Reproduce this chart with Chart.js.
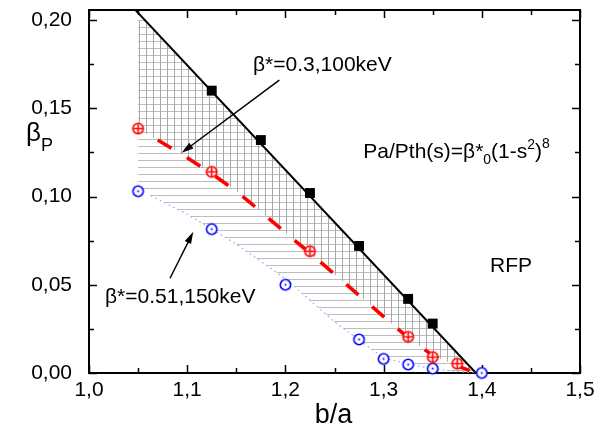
<!DOCTYPE html>
<html>
<head>
<meta charset="utf-8">
<script src="https://cdn.jsdelivr.net/npm/chart.js@4.4.0/dist/chart.umd.min.js"></script>
<style>
  html, body { margin: 0; padding: 0; background: #fff; }
  #wrap { width: 596px; height: 428px; }
</style>
</head>
<body>
<div id="wrap"><canvas id="betaChart" width="596" height="428"></canvas></div>
<script>
// values (x = b/a, y = beta_P)
var squareX = [1.125, 1.175, 1.225, 1.275, 1.325, 1.35];
var squareY = [0.160, 0.132, 0.102, 0.072, 0.042, 0.028];

// straight black limit line
var limitX = [1.040, 1.394];
var limitY = [0.210, 0.000];

// beta*=0.3, 100keV
var redX = [1.05, 1.125, 1.225, 1.325, 1.35, 1.375];
var redY = [0.1385, 0.114, 0.069, 0.0205, 0.009, 0.0053];
var redFitX = [1.07, 1.10, 1.125, 1.15, 1.175, 1.20, 1.225, 1.25, 1.275, 1.30, 1.325, 1.35, 1.375, 1.394];
var redFitY = [0.132, 0.122, 0.113, 0.103, 0.0915, 0.0795, 0.068, 0.056, 0.044, 0.032, 0.020, 0.010, 0.004, 0.0];

// beta*=0.51, 150keV
var blueX = [1.05, 1.125, 1.2, 1.275, 1.3, 1.325, 1.35, 1.4];
var blueY = [0.103, 0.0815, 0.050, 0.019, 0.008, 0.0048, 0.0025, 0.0];
var blueEdgeX = [1.063, 1.10, 1.15, 1.20, 1.25, 1.30, 1.35, 1.394];
var blueEdgeY = [0.1005, 0.090, 0.073, 0.0535, 0.029, 0.0085, 0.0022, 0.0];

// hatched bands
var hatchTopX = [1.05, 1.0564, 1.394];
var hatchTopY = [0.200, 0.200, 0.0];
var vHatchX = [1.05, 1.07, 1.10, 1.125, 1.15, 1.175, 1.20, 1.225, 1.25, 1.275, 1.30, 1.325, 1.35, 1.375, 1.394];
var vHatchY = [0.138, 0.132, 0.122, 0.113, 0.103, 0.0915, 0.0795, 0.068, 0.056, 0.044, 0.032, 0.020, 0.010, 0.004, 0.0];
var hHatchX = [1.05, 1.063, 1.10, 1.15, 1.20, 1.25, 1.30, 1.35, 1.394];
var hHatchY = [0.103, 0.1005, 0.090, 0.073, 0.0535, 0.029, 0.0085, 0.0022, 0.0];

var FONT = "Arial, 'Liberation Sans', sans-serif";

function pts(xs, ys) {
  var out = [];
  for (var i = 0; i < xs.length; i++) out.push({x: xs[i], y: ys[i]});
  return out;
}

var canvas = document.getElementById('betaChart');
var mainCtx = canvas.getContext('2d');

function makeHatch(vertical, color) {
  var c = document.createElement('canvas');
  c.width = 7; c.height = 7;
  var g = c.getContext('2d');
  g.fillStyle = color;
  if (vertical) g.fillRect(6, 0, 1, 7);
  else g.fillRect(0, 6, 7, 1);
  return mainCtx.createPattern(c, 'repeat');
}

function markerImg(kind, color) {
  var c = document.createElement('canvas');
  c.width = 15; c.height = 15;
  var g = c.getContext('2d');
  g.fillStyle = '#fff';
  g.beginPath(); g.arc(7.5, 7.5, 5.2, 0, Math.PI * 2); g.fill();
  g.strokeStyle = color; g.lineWidth = 1.6;
  g.beginPath(); g.arc(7.5, 7.5, 5.2, 0, Math.PI * 2); g.stroke();
  if (kind === 'plus') {
    g.beginPath();
    g.moveTo(2.3, 7.5); g.lineTo(12.7, 7.5);
    g.moveTo(7.5, 2.3); g.lineTo(7.5, 12.7);
    g.stroke();
  } else {
    g.fillStyle = color;
    g.beginPath(); g.arc(7.5, 7.5, 1, 0, Math.PI * 2); g.fill();
  }
  return c;
}

// text runs with sub/superscripts
function drawRuns(ctx, x, y, runs) {
  runs.forEach(function (r) {
    ctx.font = r.size + 'px ' + FONT;
    ctx.fillText(r.t, x, y + (r.dy || 0));
    x += ctx.measureText(r.t).width;
  });
}

function arrow(ctx, x1, y1, x2, y2) {
  var ang = Math.atan2(y2 - y1, x2 - x1);
  ctx.beginPath();
  ctx.moveTo(x1, y1);
  ctx.lineTo(x2 - 8 * Math.cos(ang), y2 - 8 * Math.sin(ang));
  ctx.stroke();
  ctx.beginPath();
  ctx.moveTo(x2, y2);
  ctx.lineTo(x2 - 12 * Math.cos(ang) + 3.5 * Math.sin(ang), y2 - 12 * Math.sin(ang) - 3.5 * Math.cos(ang));
  ctx.lineTo(x2 - 12 * Math.cos(ang) - 3.5 * Math.sin(ang), y2 - 12 * Math.sin(ang) + 3.5 * Math.cos(ang));
  ctx.closePath();
  ctx.fill();
}

var framePlugin = {
  id: 'frameTicks',
  beforeDatasetsDraw: function (chart) {
    var ctx = chart.ctx, a = chart.chartArea;
    var xs = chart.scales.x, ys = chart.scales.y;
    ctx.save();
    ctx.strokeStyle = '#000';
    ctx.lineWidth = 1.5;
    ctx.beginPath();
    var xt = xs.ticks.map(function (t) { return t.value; });
    for (var i = 0; i < xt.length; i++) {
      var vals = [[xt[i], 8]];
      if (i < xt.length - 1) vals.push([(xt[i] + xt[i + 1]) / 2, 5]);
      vals.forEach(function (v) {
        var px = Math.round(xs.getPixelForValue(v[0])) + 0.5;
        ctx.moveTo(px, a.bottom); ctx.lineTo(px, a.bottom - v[1]);
        ctx.moveTo(px, a.top); ctx.lineTo(px, a.top + v[1]);
      });
    }
    var yt = ys.ticks.map(function (t) { return t.value; });
    for (var j = 0; j < yt.length; j++) {
      var yv = [[yt[j], 8]];
      if (j < yt.length - 1) yv.push([(yt[j] + yt[j + 1]) / 2, 5]);
      yv.forEach(function (v) {
        var py = Math.round(ys.getPixelForValue(v[0])) + 0.5;
        ctx.moveTo(a.left, py); ctx.lineTo(a.left + v[1], py);
        ctx.moveTo(a.right, py); ctx.lineTo(a.right - v[1], py);
      });
    }
    ctx.stroke();
    ctx.lineWidth = 2;
    ctx.strokeRect(a.left, a.top, a.right - a.left, a.bottom - a.top);
    ctx.restore();
  },
  afterDraw: function (chart) {
    var ctx = chart.ctx, a = chart.chartArea;
    var xs = chart.scales.x, ys = chart.scales.y;
    function X(v) { return xs.getPixelForValue(v); }
    function Y(v) { return ys.getPixelForValue(v); }
    ctx.save();
    ctx.fillStyle = '#000';
    ctx.strokeStyle = '#000';
    ctx.textBaseline = 'alphabetic';
    ctx.textAlign = 'left';

    drawRuns(ctx, X(1.167), Y(0.171), [{t: 'β*=0.3,100keV', size: 21}]);
    drawRuns(ctx, X(1.0163), Y(0.0395), [{t: 'β*=0.51,150keV', size: 21}]);
    drawRuns(ctx, X(1.4084), Y(0.0574), [{t: 'RFP', size: 21}]);
    drawRuns(ctx, X(1.2793), Y(0.1217), [
      {t: 'Pa/Pth(s)=β*', size: 21},
      {t: '0', size: 14, dy: 6},
      {t: '(1-s', size: 21},
      {t: '2', size: 14, dy: -9},
      {t: ')', size: 21},
      {t: '8', size: 14, dy: -10}
    ]);

    ctx.lineWidth = 1.5;
    arrow(ctx, X(1.1938), Y(0.166), X(1.0944), Y(0.1248));
    arrow(ctx, X(1.0825), Y(0.0537), X(1.1062), Y(0.080));

    // axis titles
    drawRuns(ctx, a.left - 63, 141, [
      {t: 'β', size: 26},
      {t: 'P', size: 18, dy: 10}
    ]);
    ctx.textAlign = 'center';
    ctx.font = '27px ' + FONT;
    ctx.fillText('b/a', (a.left + a.right) / 2 - 1, 423);
    ctx.restore();
  }
};

var hiddenLine = {
  showLine: true, borderWidth: 0, borderColor: 'rgba(0,0,0,0)',
  pointRadius: 0, tension: 0
};

new Chart(canvas, {
  type: 'line',
  data: {
    datasets: [
      {
        data: pts(squareX, squareY), showLine: false,
        pointStyle: 'rect', pointRadius: 7, pointBackgroundColor: '#000',
        pointBorderColor: '#000', pointBorderWidth: 0, clip: false
      },
      {
        data: pts(redX, redY), showLine: false,
        pointStyle: markerImg('plus', '#ff0000'), pointRadius: 6, clip: false
      },
      {
        data: pts(blueX, blueY), showLine: false,
        pointStyle: markerImg('dot', '#0000ff'), pointRadius: 6, clip: false
      },
      {
        data: pts(limitX, limitY), borderColor: '#000', borderWidth: 2,
        pointRadius: 0, fill: false, tension: 0
      },
      {
        data: pts(redFitX, redFitY), borderColor: '#ff0000', borderWidth: 3.6,
        borderDash: [16, 18], borderCapStyle: 'butt', pointRadius: 0, fill: false, tension: 0
      },
      {
        data: pts(blueEdgeX, blueEdgeY), borderColor: '#8ea4ff', borderWidth: 1.2,
        borderDash: [1.5, 3.5], pointRadius: 0, fill: false, tension: 0
      },
      Object.assign({data: pts(hatchTopX, hatchTopY), fill: false}, hiddenLine),
      Object.assign({data: pts(vHatchX, vHatchY), fill: 6,
        backgroundColor: makeHatch(true, '#a8a8a8')}, hiddenLine),
      Object.assign({data: pts(hHatchX, hHatchY), fill: 6,
        backgroundColor: makeHatch(false, '#bdbdbd')}, hiddenLine)
    ]
  },
  options: {
    responsive: false,
    animation: false,
    events: [],
    layout: { padding: { top: 10, right: 16, left: 0, bottom: 0 } },
    plugins: {
      legend: { display: false },
      tooltip: { enabled: false }
    },
    scales: {
      x: {
        type: 'linear', min: 1.0, max: 1.5,
        afterFit: function (s) {
          s.height = 55;
          s.paddingLeft = 0; s.paddingRight = 0;
        },
        grid: { display: false, drawTicks: false },
        border: { display: false },
        ticks: {
          stepSize: 0.1, padding: 5, color: '#000', maxRotation: 0,
          includeBounds: false,
          font: { family: FONT, size: 21 },
          callback: function (v) { return v.toFixed(1).replace('.', ','); }
        }
      },
      y: {
        type: 'linear', min: 0, max: 0.2057,
        afterFit: function (s) {
          s.width = 89;
          s.paddingTop = 0; s.paddingBottom = 0;
        },
        grid: { display: false, drawTicks: false },
        border: { display: false },
        ticks: {
          stepSize: 0.05, padding: 17, color: '#000',
          includeBounds: false,
          font: { family: FONT, size: 21 },
          callback: function (v) { return v.toFixed(2).replace('.', ','); }
        }
      }
    }
  },
  plugins: [framePlugin]
});
</script>
</body>
</html>
